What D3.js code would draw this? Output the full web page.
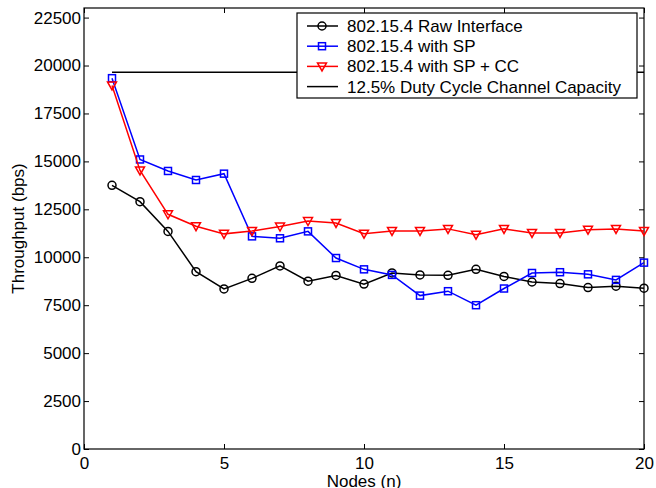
<!DOCTYPE html>
<html>
<head>
<meta charset="utf-8">
<script src="https://cdn.jsdelivr.net/npm/d3@7"></script>
<style>
  body { margin: 0; background: #fff; }
  text { font-family: "Liberation Sans", Arial, sans-serif; }
</style>
</head>
<body>
<div id="container"></div>
<script>
// 枠の大きさ
var width = 656;
var height = 488;
var margin = {left: 84, right: 12, top: 8, bottom: 39};

// データ
var nodesN = d3.range(1, 21);
var rawIf = [13750, 12900, 11350, 9250, 8350, 8900, 9550, 8750, 9050, 8600,
  9180, 9080, 9060, 9370, 9000, 8710, 8630, 8420, 8490, 8390];
var withSP = [19340, 15100, 14500, 14030, 14360, 11090, 10990, 11350, 9960, 9370,
  9080, 8000, 8230, 7500, 8370, 9180, 9220, 9110, 8820, 9720];
var withSPCC = [18960, 14530, 12240, 11620, 11220, 11370, 11600, 11890, 11790, 11230,
  11370, 11370, 11480, 11180, 11480, 11270, 11270, 11440, 11480, 11370];
var capacity = 19650;
var xTicks = [0, 5, 10, 15, 20];
var yTicks = [0, 2500, 5000, 7500, 10000, 12500, 15000, 17500, 20000, 22500];
var legendNames = ["802.15.4 Raw Interface", "802.15.4 with SP", "802.15.4 with SP + CC", "12.5% Duty Cycle Channel Capacity"];

var fs = 17;

var svg = d3.select("#container").append("svg")
  .attr("width", width)
  .attr("height", height);

var x = d3.scaleLinear().domain([0, 20]).range([margin.left, width - margin.right]);
var y = d3.scaleLinear().domain([0, 23000]).range([height - margin.bottom, margin.top]);

// 軸
var xAxis = d3.axisBottom(x).tickValues(xTicks).tickFormat(d3.format("d"))
  .tickSizeInner(-5).tickSizeOuter(0).tickPadding(8);
var yAxis = d3.axisLeft(y).tickValues(yTicks).tickFormat(d3.format("d"))
  .tickSizeInner(-5).tickSizeOuter(0).tickPadding(3);

svg.append("g").attr("transform", "translate(0," + y(0) + ")").call(xAxis);
svg.append("g").attr("transform", "translate(" + margin.left + ",0)").call(yAxis);
// 上と右の目盛り
svg.append("g").attr("transform", "translate(0," + y(23000) + ")")
  .call(d3.axisTop(x).tickValues(xTicks).tickSizeInner(-5).tickSizeOuter(0).tickFormat(""));
svg.append("g").attr("transform", "translate(" + x(20) + ",0)")
  .call(d3.axisRight(y).tickValues(yTicks).tickSizeInner(-5).tickSizeOuter(0).tickFormat(""));

svg.selectAll(".domain").remove();
svg.selectAll(".tick line").attr("stroke", "#000").attr("stroke-width", 1);
svg.selectAll(".tick text").attr("font-size", fs).attr("fill", "#000")
  .style("font-family", "Liberation Sans, Arial, sans-serif");

svg.append("rect")
  .attr("x", x(0)).attr("y", y(23000))
  .attr("width", x(20) - x(0)).attr("height", y(0) - y(23000))
  .attr("fill", "none").attr("stroke", "#000").attr("stroke-width", 1.2);

// ラベル
svg.append("text").attr("x", (x(0) + x(20)) / 2).attr("y", 487)
  .attr("text-anchor", "middle").attr("font-size", fs).text("Nodes (n)");
svg.append("text")
  .attr("transform", "translate(24," + (y(0) + y(23000)) / 2 + ") rotate(-90)")
  .attr("text-anchor", "middle").attr("font-size", fs).text("Throughput (bps)");

// 容量の線
svg.append("line")
  .attr("x1", x(1)).attr("x2", x(20))
  .attr("y1", y(capacity)).attr("y2", y(capacity))
  .attr("stroke", "#000").attr("stroke-width", 1.5);

var series = [
  {vals: rawIf, color: "#000", shape: "circle"},
  {vals: withSP, color: "#0000ff", shape: "square"},
  {vals: withSPCC, color: "#ff0000", shape: "triangle"}
];

var line = d3.line()
  .x(function(d, i) { return x(nodesN[i]); })
  .y(function(d) { return y(d); });

function marker(g, shape, color, cx, cy) {
  if (shape === "circle") {
    g.append("circle").attr("cx", cx).attr("cy", cy).attr("r", 4)
      .attr("fill", "none").attr("stroke", color).attr("stroke-width", 1.5);
  } else if (shape === "square") {
    g.append("rect").attr("x", cx - 3.5).attr("y", cy - 3.5).attr("width", 7).attr("height", 7)
      .attr("fill", "none").attr("stroke", color).attr("stroke-width", 1.5);
  } else {
    g.append("path")
      .attr("d", "M" + (cx - 4.5) + "," + (cy - 3.5) + "L" + (cx + 4.5) + "," + (cy - 3.5) + "L" + cx + "," + (cy + 4.5) + "Z")
      .attr("fill", "none").attr("stroke", color).attr("stroke-width", 1.5);
  }
}

series.forEach(function(s) {
  var g = svg.append("g");
  g.append("path").datum(s.vals).attr("d", line)
    .attr("fill", "none").attr("stroke", s.color).attr("stroke-width", 1.5);
  s.vals.forEach(function(v, i) {
    marker(g, s.shape, s.color, x(nodesN[i]), y(v));
  });
});

// 凡例
var lg = svg.append("g");
lg.append("rect").attr("x", 297).attr("y", 13).attr("width", 340).attr("height", 85)
  .attr("fill", "#fff").attr("stroke", "#000").attr("stroke-width", 1.2);
legendNames.forEach(function(name, i) {
  var ly = 26 + i * 20.2;
  var c = i < 3 ? series[i].color : "#000";
  lg.append("line").attr("x1", 307).attr("x2", 338).attr("y1", ly).attr("y2", ly)
    .attr("stroke", c).attr("stroke-width", 1.5);
  if (i < 3) marker(lg, series[i].shape, c, 322, ly);
  lg.append("text").attr("x", 347).attr("y", ly + 6).attr("font-size", fs).text(name);
});
</script>
</body>
</html>
